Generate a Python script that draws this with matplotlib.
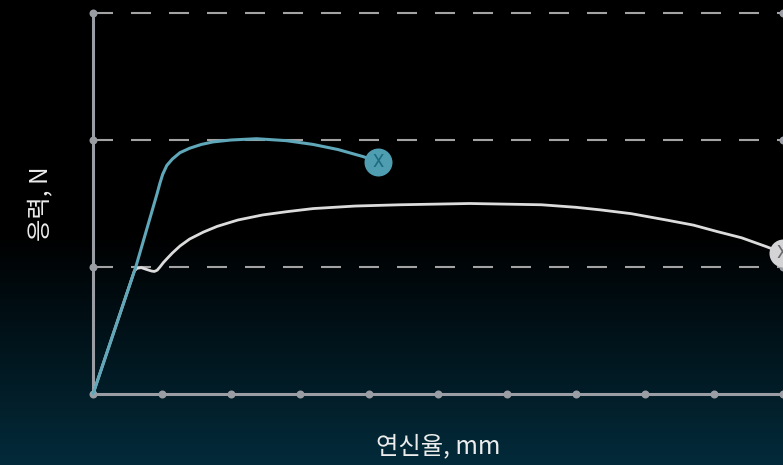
import numpy as np
import matplotlib
matplotlib.use("Agg")
import matplotlib.pyplot as plt

# ---- data ----
x_ticks = [0, 1, 2, 3, 4, 5, 6, 7, 8, 9, 10]
y_grid = [1, 2, 3]

blue_x = [0, 0.62, 0.93, 0.97, 1.01, 1.07, 1.15, 1.26, 1.40, 1.57, 1.74, 2.0, 2.37, 2.8,
          3.19, 3.55, 3.91, 4.13]
blue_y = [0, 1.0, 1.58, 1.66, 1.73, 1.80, 1.85, 1.90, 1.935, 1.965, 1.985, 2.0, 2.01, 1.995,
          1.965, 1.925, 1.87, 1.83]

white_x = [0, 0.60, 0.64, 0.70, 0.78, 0.85, 0.89, 0.93, 0.97, 1.02, 1.08, 1.15, 1.26, 1.40,
           1.6, 1.8, 2.1, 2.46, 2.8, 3.19, 3.8, 4.45, 5.46, 6.5, 7.0, 7.35, 7.8, 8.31, 8.7,
           9.04, 9.4, 9.76, 10.0]
white_y = [0, 0.97, 0.99, 0.995, 0.98, 0.968, 0.965, 0.975, 1.0, 1.035, 1.07, 1.11, 1.165,
           1.22, 1.275, 1.32, 1.37, 1.41, 1.435, 1.46, 1.48, 1.49, 1.50, 1.49, 1.47, 1.45,
           1.42, 1.37, 1.33, 1.28, 1.23, 1.16, 1.11]

x_label = "연신율, mm"
y_label = "응력, N"

# ---- styling ----
plt.rcParams['font.family'] = ['Noto Sans CJK KR', 'DejaVu Sans']
W, H, DPI = 783, 465, 100
fig = plt.figure(figsize=(W / DPI, H / DPI), dpi=DPI, facecolor='black')

# background gradient
bg = fig.add_axes([0, 0, 1, 1], zorder=-10)
bg.axis('off')
col = np.zeros((H, 1, 3))
c_top = np.array([0, 0, 0]) / 255
c_bot = np.array([0x03, 0x2b, 0x3b]) / 255
start = 235
for r in range(H):
    t = 0.0 if r < start else (r - start) / (H - start)
    col[r, 0] = c_top + (c_bot - c_top) * t
bg.imshow(col, aspect='auto', extent=[0, 1, 0, 1], origin='upper')
bg.set_xlim(0, 1); bg.set_ylim(0, 1)

left = 93 / W
bottom = (H - 394) / H
top = (H - 13) / H
ax = fig.add_axes([left, bottom, 1 - left, top - bottom])
ax.set_facecolor('none')
ax.set_xlim(0, 10)
ax.set_ylim(0, 3)
for s in ax.spines.values():
    s.set_visible(False)
ax.set_xticks([]); ax.set_yticks([])

axis_col = '#9b9da4'
grid_col = '#a3a3a3'
px = 72 / DPI  # points per pixel

# gridlines
for g in y_grid:
    ax.plot([0, 10], [g, g], color=grid_col, lw=1.5,
            linestyle=(0, (20 * px / 1.5, 18 * px / 1.5)), zorder=1, clip_on=False)

# axes lines
ax.plot([0, 10], [0, 0], color=axis_col, lw=2.2, zorder=2, clip_on=False, solid_capstyle='butt')
ax.plot([0, 0], [0, 3], color=axis_col, lw=2.2, zorder=2, clip_on=False, solid_capstyle='butt')

# dots
ds = (8 * px) ** 2
ax.scatter(x_ticks, [0] * len(x_ticks), s=ds, color=axis_col, zorder=3, clip_on=False, lw=0)
ax.scatter([0] * len(y_grid), y_grid, s=ds, color=axis_col, zorder=3, clip_on=False, lw=0)
ax.scatter([10] * len(y_grid), y_grid, s=ds, color=axis_col, zorder=3, clip_on=False, lw=0)

# curves
white_col = '#dcdcdc'
blue_col = '#5fa7b9'
ax.plot(white_x, white_y, color=white_col, lw=2.0, zorder=4, clip_on=False,
        solid_joinstyle='round', solid_capstyle='round')
ax.plot(blue_x, blue_y, color=blue_col, lw=2.2, zorder=5, clip_on=False,
        solid_joinstyle='round', solid_capstyle='round')

# end markers
ms = 28 * px
ax.plot([blue_x[-1]], [blue_y[-1]], 'o', ms=ms, color='#4f9db1', mec='none', zorder=6, clip_on=False)
ax.text(blue_x[-1], blue_y[-1], 'X', color='#1d6b7d', fontsize=13, ha='center', va='center',
        zorder=7, family=['Roboto', 'DejaVu Sans'])
ax.plot([white_x[-1]], [white_y[-1]], 'o', ms=ms, color='#d4d4d6', mec='none', zorder=6, clip_on=False)
ax.text(white_x[-1] - 0.02, white_y[-1], 'X', color='#6a6a6e', fontsize=13, ha='center', va='center',
        zorder=7, family=['Roboto', 'DejaVu Sans'])

# labels
fig.text(438 / W, 1 - 446 / H, x_label, color='#ececec', fontsize=17.5, ha='center', va='center')
fig.text(40 / W, 1 - 204 / H, y_label, color='#ececec', fontsize=17.5, ha='center', va='center',
         rotation=90)

fig.savefig('out.png', dpi=DPI, facecolor='black')
